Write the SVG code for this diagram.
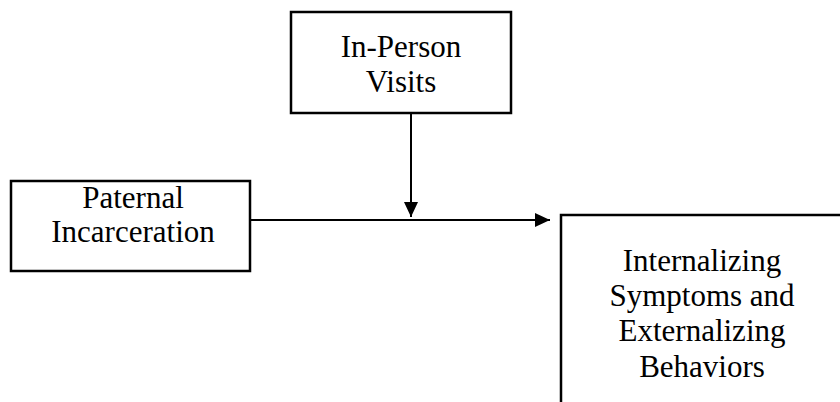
<svg xmlns="http://www.w3.org/2000/svg" width="840" height="402" viewBox="0 0 840 402">
<style>
.box{fill:#fff;stroke:#000;stroke-width:2.5}
.t{font-family:"Liberation Serif","Times New Roman",serif;font-size:31px;fill:#000;text-anchor:middle}
.c{stroke:#000;stroke-width:2;fill:none}
</style>
<defs>
<marker id="ah" viewBox="0 0 15 14" refX="15" refY="7" markerWidth="15" markerHeight="14" markerUnits="userSpaceOnUse" orient="auto">
<path d="M0,0 L15,7 L0,14 z" fill="#000"/>
</marker>
</defs>
<rect width="840" height="402" fill="#fff"/>
<g id="visits">
<rect class="box" x="291" y="12" width="220" height="101"/>
<text class="t" x="401" y="57">In-Person</text>
<text class="t" x="401" y="92">Visits</text>
</g>
<g id="incarceration">
<rect class="box" x="11" y="181" width="239" height="90"/>
<text class="t" x="133" y="208">Paternal</text>
<text class="t" x="133" y="242">Incarceration</text>
</g>
<g id="outcomes">
<rect class="box" x="561" y="215" width="284" height="200"/>
<text class="t" x="702" y="271">Internalizing</text>
<text class="t" x="702" y="306">Symptoms and</text>
<text class="t" x="702" y="341">Externalizing</text>
<text class="t" x="702" y="377">Behaviors</text>
</g>
<g id="connectors">
<path class="c" d="M251,220 H550" marker-end="url(#ah)"/>
<path class="c" d="M411,113 V217" marker-end="url(#ah)"/>
</g>
</svg>
